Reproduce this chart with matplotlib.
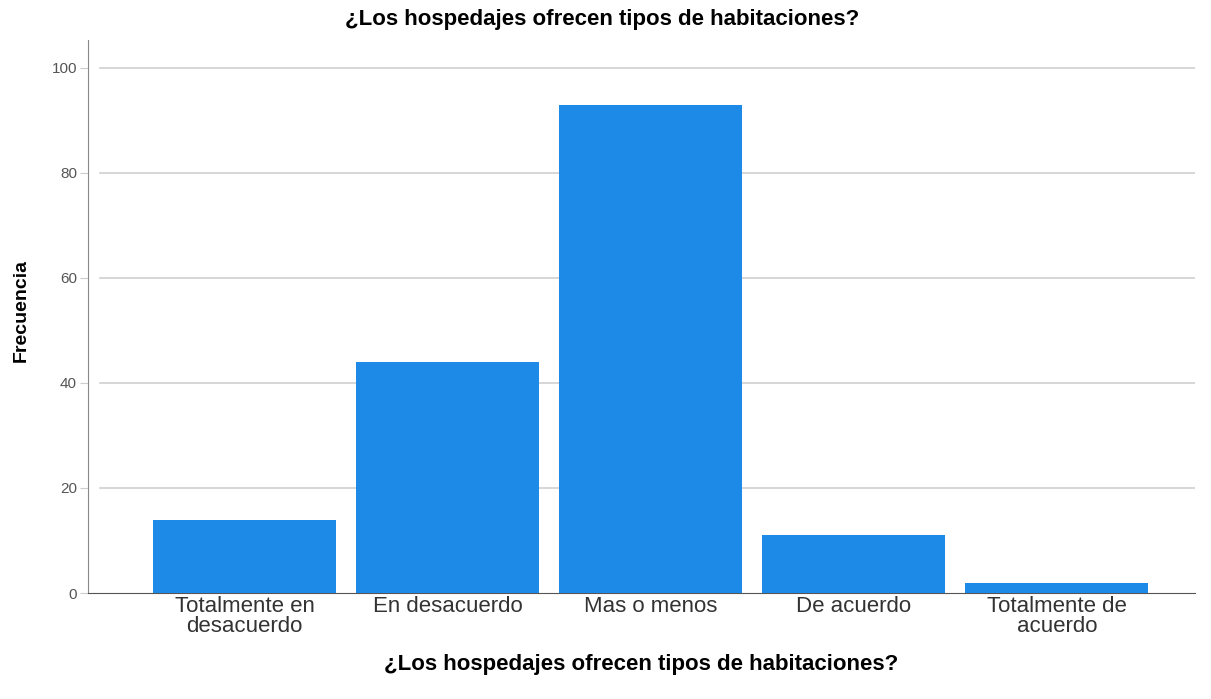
import matplotlib.pyplot as plt
import numpy as np

categories = ['Totalmente en\ndesacuerdo', 'En desacuerdo', 'Mas o menos', 'De acuerdo', 'Totalmente de\nacuerdo']
frecuencia = [14, 44, 93, 11, 2]
y_ticks = [0, 20, 40, 60, 80, 100]

titulo = '¿Los hospedajes ofrecen tipos de habitaciones?'

plt.rcParams['font.family'] = ['Liberation Sans', 'DejaVu Sans']

fig = plt.figure(figsize=(12.11, 6.99), dpi=100)
ax = fig.add_axes([0.0727, 0.1516, 0.9141, 0.7912])

x = np.arange(len(categories))
ax.bar(x, frecuencia, width=0.9, color='#1e8ae8', zorder=3)

ax.set_xlim(-0.77, 4.68)
ax.set_ylim(0, 105.3)
ax.set_yticks(y_ticks)
ax.set_yticklabels([str(v) for v in y_ticks], fontsize=11, color='#555555')
ax.set_xticks(x)
ax.set_xticklabels(categories, fontsize=16, color='#333333', linespacing=0.95)
ax.tick_params(axis='x', length=0, pad=2)
ax.tick_params(axis='y', length=6, color='#cccccc', pad=2)

for v in y_ticks[1:]:
    ax.axhline(v, xmin=0.011, xmax=1, color='#d0d0d0', lw=1.2, zorder=1)

ax.spines['top'].set_visible(False)
ax.spines['right'].set_visible(False)
ax.spines['left'].set_color('#888888')
ax.spines['bottom'].set_color('#555555')

ax.set_ylabel('Frecuencia', fontsize=14, fontweight='bold')
ax.yaxis.set_label_coords(-0.053, 0.51)
ax.set_xlabel(titulo, fontsize=16, fontweight='bold', labelpad=12)
fig.text(0.497, 0.972, titulo, ha='center', va='center', fontsize=16, fontweight='bold')

fig.savefig('out.png', dpi=100)
